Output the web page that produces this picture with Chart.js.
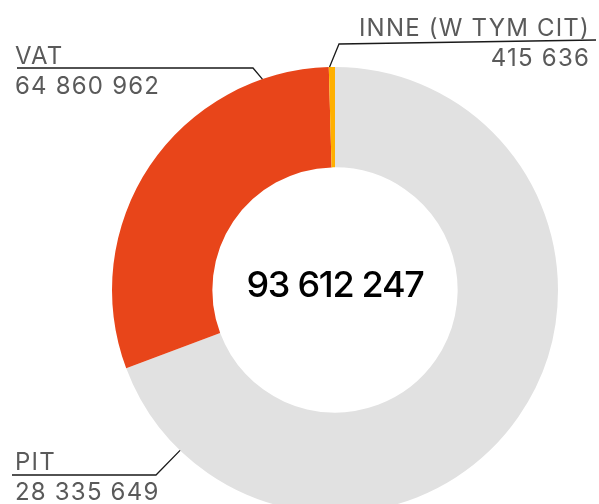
<!DOCTYPE html>
<html>
<head>
<meta charset="utf-8">
<script src="https://cdn.jsdelivr.net/npm/chart.js@4"></script>
<style>
  html, body { margin: 0; padding: 0; background: #fff; }
  .chart-wrapper { width: 599px; height: 504px; overflow: hidden; }
  canvas { display: block; }
</style>
</head>
<body>
<div class="chart-wrapper"><canvas id="chart" width="599" height="513"></canvas></div>
<script>
// Data (order = clockwise from 12 o'clock)
const categories = ["VAT", "PIT", "INNE (W TYM CIT)"]
const values = [64860962, 28335649, 415636]
const colors = ["#e1e1e1", "#e8451a", "#ffb000"]

const primaryFont = "Inter"

const fmt = (n) => n.toString().replace(/\B(?=(\d{3})+(?!\d))/g, " ")

// Callout layout: anchor angle on outer edge (deg clockwise from top), elbow, end, text placement
const callouts = [
  { label: "VAT", angle: 341, elbow: [253, 68], end: [17, 68], textX: 15, align: "left", nameY: 64, valueY: 94 },
  { label: "PIT", angle: 224, elbow: [156, 475], end: [12, 475], textX: 15, align: "left", nameY: 470, valueY: 500 },
  { label: "INNE (W TYM CIT)", angle: 358.6, elbow: [339, 44], end: [596, 40], textX: 590, align: "right", nameY: 36, valueY: 66 },
]

const calloutPlugin = {
  id: "callouts",
  afterDraw: (chart) => {
    const ctx = chart.ctx
    const arc = chart.getDatasetMeta(0).data[0]
    const cx = arc.x, cy = arc.y, r = arc.outerRadius

    ctx.save()
    // center total
    const total = values.reduce((a, b) => a + b, 0)
    ctx.font = `500 36px ${primaryFont}, sans-serif`
    ctx.letterSpacing = "-1.3px"
    ctx.fillStyle = "#000"
    ctx.textAlign = "center"
    ctx.textBaseline = "alphabetic"
    ctx.fillText(fmt(total), cx, cy + 7)

    callouts.forEach((c) => {
      const i = categories.indexOf(c.label)
      const a = (c.angle * Math.PI) / 180
      const ax = cx + r * Math.sin(a)
      const ay = cy - r * Math.cos(a)

      ctx.strokeStyle = "#1a1a1a"
      ctx.lineWidth = 1.3
      ctx.beginPath()
      ctx.moveTo(ax, ay)
      ctx.lineTo(c.elbow[0], c.elbow[1])
      ctx.lineTo(c.end[0], c.end[1])
      ctx.stroke()

      ctx.fillStyle = "#5a5a5a"
      ctx.textAlign = c.align
      ctx.font = `400 24px ${primaryFont}, sans-serif`
      ctx.letterSpacing = "1.2px"
      ctx.fillText(c.label, c.textX, c.nameY)
      ctx.fillText(fmt(values[i]), c.textX, c.valueY)
    })
    ctx.restore()
  },
}

new Chart(document.getElementById("chart").getContext("2d"), {
  type: "doughnut",
  data: {
    labels: categories,
    datasets: [
      {
        data: values,
        backgroundColor: colors,
        borderWidth: 0,
        hoverOffset: 0,
        offset: 0,
      },
    ],
  },
  options: {
    responsive: false,
    animation: false,
    events: [],
    cutout: "55%",
    layout: { padding: { left: 112, right: 41, top: 67, bottom: 0 } },
    plugins: { legend: { display: false }, tooltip: { enabled: false }, title: { display: false } },
  },
  plugins: [calloutPlugin],
})
</script>
</body>
</html>
